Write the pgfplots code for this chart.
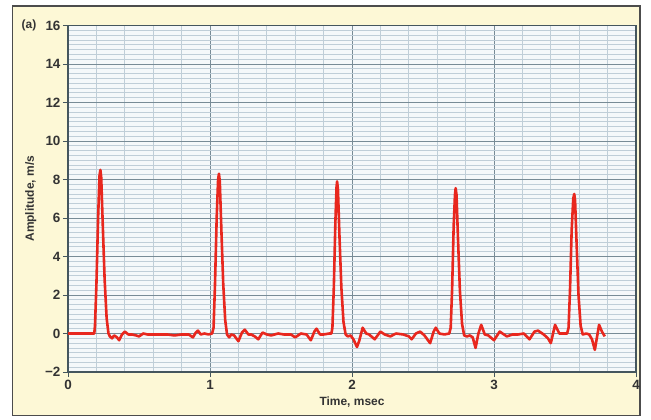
\documentclass[border=0pt]{standalone}
\usepackage{pgfplots}
\pgfplotsset{compat=1.18}
\usetikzlibrary{backgrounds}
\usepackage{fontspec}
\setmainfont{Liberation Sans}
\definecolor{cream}{HTML}{FDF8D6}
\definecolor{plotbg}{HTML}{F5F8FA}
\definecolor{minorgrid}{HTML}{C0CED8}
\definecolor{majorgrid}{HTML}{788B96}
\definecolor{axisc}{HTML}{45565E}
\definecolor{sig}{HTML}{E8271E}
\definecolor{txt}{HTML}{333333}
\begin{document}
\begin{tikzpicture}
\begin{axis}[
  scale only axis, width=568bp, height=346.5bp,
  xmin=0, xmax=4, ymin=-2, ymax=16,
  xtick={0,1,2,3,4}, ytick={-2,0,2,4,6,8,10,12,14,16},
  yticklabels={−2,0,2,4,6,8,10,12,14,16},
  xticklabels={0,1,2,3,4},
  minor x tick num=4, minor y tick num=7,
  grid=both,
  major grid style={majorgrid, line width=1bp},
  minor grid style={minorgrid, line width=0.8bp},
  axis background/.style={fill=plotbg},
  axis line style={axisc, line width=1.6bp},
  tick align=outside, tick pos=left,
  major tick style={axisc, line width=0.9bp},
  major tick length=5bp, minor tick length=0bp,
  ticklabel style={font=\bfseries\fontsize{13.5}{13.5}\selectfont, text=txt},
  yticklabel style={xshift=1bp},
  label style={font=\bfseries\fontsize{12}{12}\selectfont, text=txt},
  xlabel={Time, msec}, ylabel={Amplitude, m/s},
  xlabel style={yshift=0bp},
  ylabel style={yshift=2bp},
]
\addplot[sig, line width=2.6bp, line join=round] coordinates {
(0,0) (0.185,0)
(0.19,0.4) (0.2,2.5) (0.212,6.0) (0.222,8.2) (0.228,8.5) (0.234,8.1) (0.245,5.6) (0.258,2.8) (0.272,0.8) (0.285,0.0) (0.295,-0.15)
(0.31,-0.25) (0.325,-0.1) (0.345,-0.2) (0.36,-0.35) (0.38,-0.05) (0.40,0.1) (0.425,-0.05) (0.45,-0.05) (0.48,-0.1) (0.50,-0.15) (0.53,0.0) (0.56,-0.05) (0.6,-0.05) (0.65,-0.05) (0.7,-0.05) (0.75,-0.1) (0.8,-0.05) (0.85,-0.05) (0.88,-0.2) (0.90,0.05) (0.915,0.15) (0.935,-0.05) (0.96,0.0) (0.99,-0.05) (1.015,0.0)
(1.025,0.3) (1.035,2.5) (1.047,6.0) (1.057,8.0) (1.063,8.3) (1.069,7.9) (1.08,5.4) (1.093,2.6) (1.107,0.7) (1.12,-0.05) (1.135,-0.2)
(1.15,-0.05) (1.17,-0.1) (1.2,-0.4) (1.225,0.05) (1.245,0.2) (1.27,-0.05) (1.29,-0.05) (1.315,-0.15) (1.34,-0.3) (1.37,0.05) (1.4,-0.05) (1.43,-0.1) (1.48,0.0) (1.52,-0.05) (1.57,-0.05) (1.6,-0.2) (1.64,0.0) (1.68,-0.05) (1.71,-0.35) (1.735,0.1) (1.75,0.25) (1.775,-0.05) (1.8,-0.05) (1.84,0.0) (1.855,0.0)
(1.862,0.3) (1.872,2.4) (1.883,5.8) (1.891,7.6) (1.895,7.9) (1.901,7.5) (1.912,5.0) (1.925,2.4) (1.94,0.6) (1.955,-0.05) (1.97,-0.15)
(1.99,-0.1) (2.01,-0.3) (2.035,-0.7) (2.05,-0.4) (2.075,0.3) (2.1,0.0) (2.12,-0.05) (2.16,-0.3) (2.2,0.1) (2.23,-0.05) (2.27,-0.15) (2.31,0.0) (2.36,-0.05) (2.4,-0.15) (2.42,-0.3) (2.45,0.0) (2.48,0.1) (2.51,-0.1) (2.55,-0.5) (2.575,0.1) (2.59,0.3) (2.615,0.0) (2.65,-0.05) (2.685,0.0)
(2.695,0.3) (2.705,2.3) (2.716,5.6) (2.725,7.2) (2.73,7.55) (2.736,7.2) (2.747,4.8) (2.76,2.2) (2.775,0.5) (2.79,-0.1) (2.81,-0.15)
(2.83,-0.1) (2.85,-0.2) (2.87,-0.75) (2.89,0.0) (2.91,0.45) (2.935,-0.05) (2.96,-0.1) (3.0,-0.35) (3.04,0.1) (3.07,-0.05) (3.09,-0.15) (3.13,-0.05) (3.17,-0.05) (3.21,0.0) (3.25,-0.3) (3.285,0.1) (3.31,0.15) (3.35,-0.05) (3.38,-0.25) (3.40,-0.5) (3.43,0.45) (3.46,0.0) (3.50,0.0) (3.515,0.0)
(3.525,0.3) (3.535,2.2) (3.547,5.4) (3.558,7.0) (3.565,7.25) (3.571,6.9) (3.582,4.6) (3.595,2.0) (3.61,0.4) (3.625,-0.05) (3.65,0.0)
(3.67,-0.05) (3.69,-0.3) (3.71,-0.85) (3.725,-0.2) (3.74,0.45) (3.76,0.1) (3.78,-0.15)
};
\coordinate (sw) at (rel axis cs:0,0);
\end{axis}
\begin{scope}[on background layer, x=1bp, y=1bp, shift={(sw)}]
\fill[white] (-68,-47) rectangle (583,372);
\filldraw[fill=cream, draw=black!70, line width=1.2bp] (-55.5,-43.5) rectangle (572,366);
\end{scope}
\begin{scope}[x=1bp, y=1bp, shift={(sw)}]
\node[font=\bfseries\fontsize{12}{12}\selectfont, text=txt] at (-39,347) {(a)};
\end{scope}
\end{tikzpicture}
\end{document}
